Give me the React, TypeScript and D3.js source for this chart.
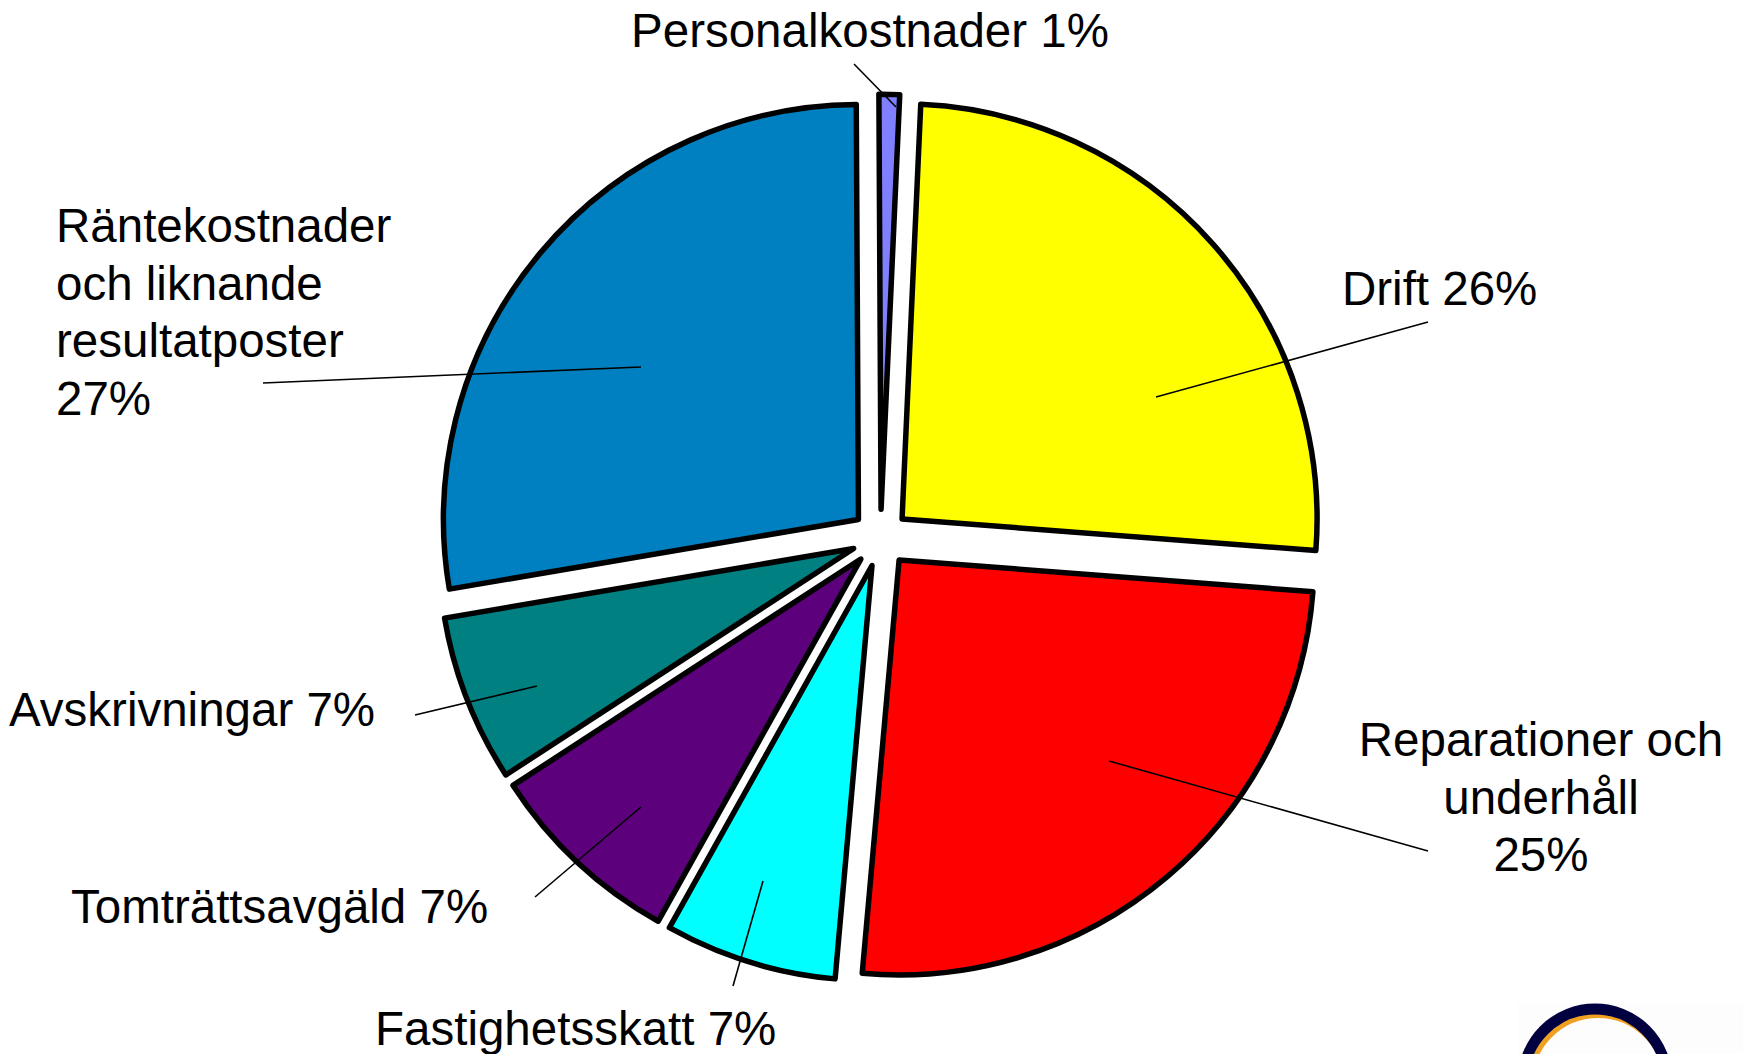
import React from 'react';
import * as d3 from 'd3';

// Fördelning av kostnader (andel)
const categories = [
  'Personalkostnader',
  'Drift',
  'Reparationer och underhåll',
  'Fastighetsskatt',
  'Tomträttsavgäld',
  'Avskrivningar',
  'Räntekostnader och liknande resultatposter',
];
const shares = [0.8, 25.5, 25.2, 6.7, 7.7, 6.5, 27.6];
const labelText = [
  ['Personalkostnader 1%'],
  ['Drift 26%'],
  ['Reparationer och', 'underhåll', '25%'],
  ['Fastighetsskatt 7%'],
  ['Tomträttsavgäld 7%'],
  ['Avskrivningar 7%'],
  ['Räntekostnader', 'och liknande', 'resultatposter', '27%'],
];
const sliceColors = ['#8080ff', '#ffff00', '#ff0000', '#00ffff', '#5c007c', '#008080', '#0080c0'];

// label placement (first baseline) and leader line ends
const labelLayout = [
  { x: 870, y: 47, anchor: 'middle', from: [854, 64], to: [896, 107] },
  { x: 1342, y: 305, anchor: 'start', from: [1428, 322], to: [1156, 397] },
  { x: 1541, y: 756, anchor: 'middle', from: [1428, 851], to: [1109, 761] },
  { x: 375, y: 1045, anchor: 'start', from: [733, 986], to: [763, 881] },
  { x: 71, y: 923, anchor: 'start', from: [535, 897], to: [641, 807] },
  { x: 9, y: 726, anchor: 'start', from: [415, 715], to: [537, 686] },
  { x: 56, y: 242, anchor: 'start', from: [263, 383], to: [641, 367] },
];

const W = 1743;
const H = 1054;
const cx = 880.5;
const cy = 538;
const radius = 415;
const explode = 28.8;
const startDeg = -0.3;
const lineHeight = 57.5;
const fontSize = 47.5;

export default function App() {
  const pie = d3
    .pie<number>()
    .sort(null)
    .value((d) => d)
    .startAngle((startDeg * Math.PI) / 180)
    .endAngle(((360 + startDeg) * Math.PI) / 180);
  const arcs = pie(shares);
  const arc = d3.arc<d3.PieArcDatum<number>>().innerRadius(0).outerRadius(radius);

  return (
    <svg
      width={W}
      height={H}
      style={{ position: 'absolute', left: 0, top: 0, background: '#fff' }}
      fontFamily="'Liberation Sans', Arial, sans-serif"
    >
      <g transform={`translate(${cx},${cy})`}>
        {arcs.map((a, i) => {
          const mid = (a.startAngle + a.endAngle) / 2;
          const dx = Math.sin(mid) * explode;
          const dy = -Math.cos(mid) * explode;
          return (
            <path
              key={categories[i]}
              d={arc(a) || ''}
              transform={`translate(${dx},${dy})`}
              fill={sliceColors[i]}
              stroke="#000"
              strokeWidth={5.5}
              strokeLinejoin="round"
            />
          );
        })}
      </g>

      {labelLayout.map((l, i) => (
        <g key={'lbl' + i}>
          <line x1={l.from[0]} y1={l.from[1]} x2={l.to[0]} y2={l.to[1]} stroke="#000" strokeWidth={1.6} />
          <text x={l.x} y={l.y} fontSize={fontSize} textAnchor={l.anchor} fill="#000">
            {labelText[i].map((t, j) => (
              <tspan key={j} x={l.x} dy={j === 0 ? 0 : lineHeight}>
                {t}
              </tspan>
            ))}
          </text>
        </g>
      ))}

      {/* logo corner */}
      <rect x={1518} y={1003} width={225} height={51} fill="#fdfdfd" />
      <circle cx={1598} cy={1083} r={68} fill="none" stroke="#f0a020" strokeWidth={6} />
      <circle cx={1595} cy={1081} r={72} fill="none" stroke="#000040" strokeWidth={11} />
    </svg>
  );
}
